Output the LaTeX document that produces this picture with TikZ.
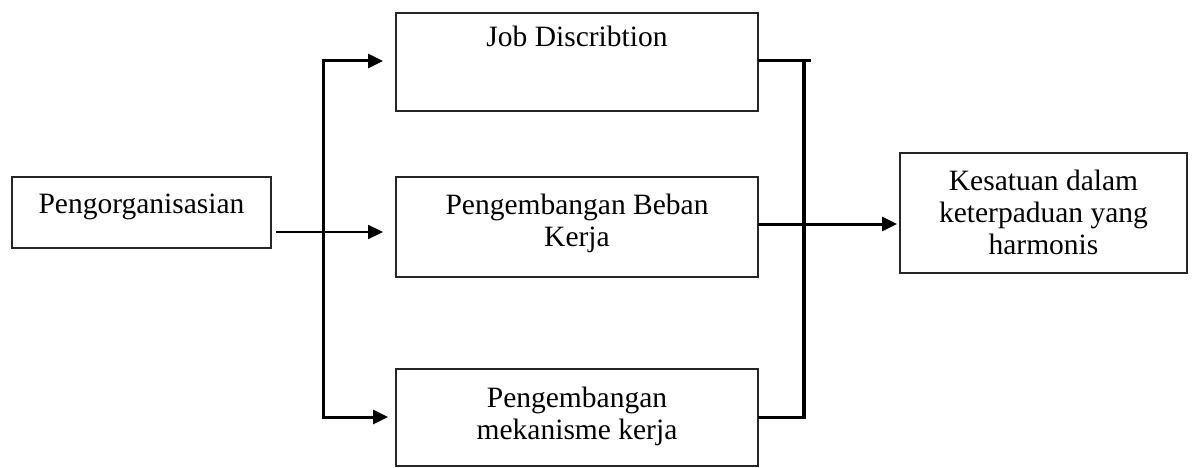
\documentclass[tikz,border=0pt]{standalone}
\usepackage{fontspec}
\setmainfont{Liberation Serif}
\usetikzlibrary{arrows.meta}
\begin{document}
\begin{tikzpicture}[x=1pt,y=-1pt,
  box/.style={draw=black!85, line width=2.3pt, inner sep=0pt, outer sep=0pt},
  txt/.style={inner sep=0pt, anchor=base, align=center, font=\fontsize{29.5pt}{32pt}\selectfont},
  conn/.style={draw=black, line width=3pt},
  arr/.style={conn, -{Triangle[length=15pt,width=14pt]}},
  bar/.style={draw=black, line width=4.5pt}]
\useasboundingbox (0,0) rectangle (1194,468);
% boxes
\node[box, minimum width=259pt, minimum height=71pt] (org) at (141.5,212.5) {};
\node[box, minimum width=362pt, minimum height=98pt] (b1) at (577,62) {};
\node[box, minimum width=362pt, minimum height=100pt] (b2) at (577,227) {};
\node[box, minimum width=362pt, minimum height=97pt] (b3) at (577,417.5) {};
\node[box, minimum width=287pt, minimum height=120pt] (k) at (1043.5,213) {};
% texts (base = baseline of the last line)
\node[txt] (torg) at (141.5,213) {Pengorganisasian};
\node[txt] (tb1) at (577,47) {Job Discribtion};
\node[txt] (tb2) at (577,246) {Pengembangan Beban\\Kerja};
\node[txt] (tb3) at (577,439) {Pengembangan\\mekanisme kerja};
\node[txt] (tk) at (1043.5,254) {Kesatuan dalam\\keterpaduan yang\\harmonis};
% left distribution
\coordinate (lt) at (323,61);
\coordinate (lb) at (323,417);
\coordinate (om) at (org.east |- 0,232);
\draw[conn] (lt) -- (lb);
\draw[arr, shorten >=13pt] ([xshift=-1.5pt]lt) -- (lt -| b1.west);
\draw[arr, shorten >=8pt] ([xshift=-1.5pt]lb) -- (lb -| b3.west);
\draw[arr, line width=2.3pt, shorten <=5pt, shorten >=13pt] (om) -- (om -| b2.west);
% right collection
\coordinate (rt) at (804,61);
\coordinate (rb) at (804,417);
\coordinate (re) at (811,61);
\draw[conn] (rt -| b1.east) -- (re);
\draw[bar] (rt) -- (rb);
\draw[conn] (rb -| b3.east) -- ([xshift=2pt]rb);
\coordinate (bm) at (b2.east |- 0,224);
\draw[arr, shorten >=3pt] (bm) -- (bm -| k.west);
\end{tikzpicture}
\end{document}
